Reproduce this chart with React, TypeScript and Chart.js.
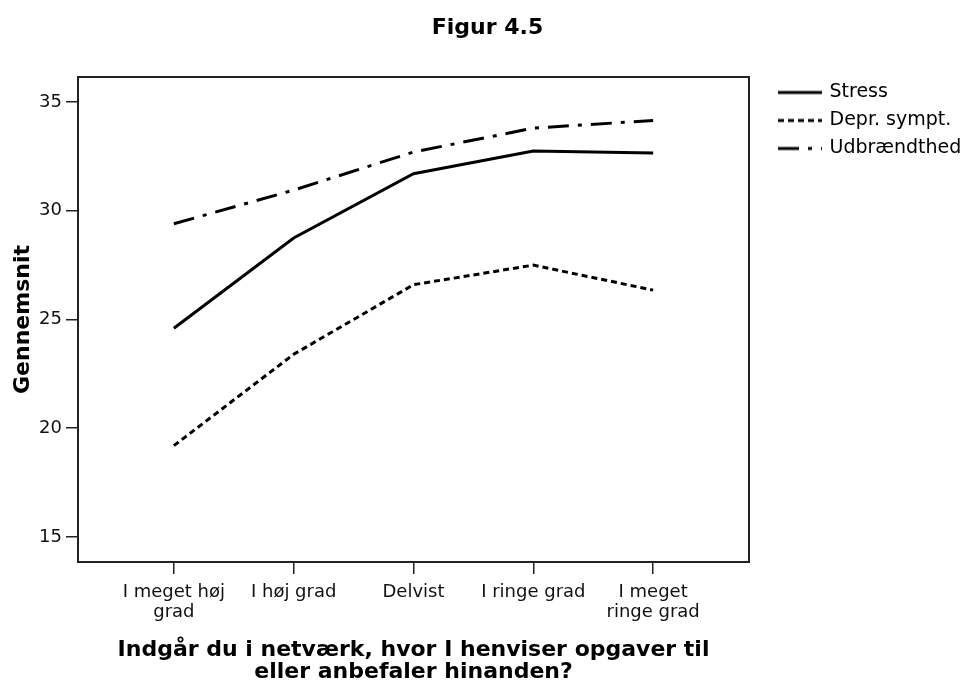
import React, { useEffect, useRef } from "react";
import { Chart, registerables } from "chart.js";

Chart.register(...registerables);

const categories: (string | string[])[] = [
  ["I meget høj", "grad"],
  "I høj grad",
  "Delvist",
  "I ringe grad",
  ["I meget", "ringe grad"],
];
const stress = [24.6, 28.75, 31.7, 32.75, 32.65];
const depr = [19.2, 23.4, 26.6, 27.5, 26.35];
const udbr = [29.4, 30.95, 32.7, 33.8, 34.15];
const yTicks = [15, 20, 25, 30, 35];
const seriesNames = ["Stress", "Depr. sympt.", "Udbrændthed"];
const chartTitle = "Figur 4.5";
const yTitle = "Gennemsnit";
const xTitle = ["Indgår du i netværk, hvor I henviser opgaver til", "eller anbefaler hinanden?"];

const FONT = "'DejaVu Sans', sans-serif";
const dashes: number[][] = [[], [6, 4], [21, 9, 4, 9]];

function sample(dash: number[]): HTMLCanvasElement {
  const c = document.createElement("canvas");
  c.width = 66;
  c.height = 8;
  const g = c.getContext("2d")!;
  g.strokeStyle = "#000";
  g.lineWidth = 3;
  g.setLineDash(dash);
  g.beginPath();
  g.moveTo(22, 4);
  g.lineTo(66, 4);
  g.stroke();
  return c;
}

const boxPlugin = {
  id: "frameBox",
  afterDraw(chart: any) {
    const { ctx, chartArea: a } = chart;
    ctx.save();
    ctx.strokeStyle = "#222";
    ctx.lineWidth = 2;
    ctx.setLineDash([]);
    ctx.strokeRect(a.left, a.top, a.right - a.left, a.bottom - a.top);
    ctx.restore();
  },
};

export default function App() {
  const ref = useRef<HTMLCanvasElement | null>(null);
  useEffect(() => {
    if (!ref.current) return;
    const series = [stress, depr, udbr];
    const samples = dashes.map(sample);
    const chart = new Chart(ref.current, {
      type: "line",
      data: {
        datasets: series.map((vals, k) => ({
          label: seriesNames[k],
          data: vals.map((v, i) => ({ x: i, y: v })),
          borderColor: "#000",
          backgroundColor: "#000",
          borderWidth: 3,
          borderDash: dashes[k],
          pointRadius: 0,
          tension: 0,
          fill: false,
        })),
      },
      options: {
        responsive: false,
        devicePixelRatio: 1,
        animation: false,
        layout: { padding: { left: 10, right: 0, top: 0, bottom: 0 } },
        scales: {
          x: {
            type: "linear",
            min: -0.8,
            max: 4.8,
            afterBuildTicks: (s: any) => {
              s.ticks = categories.map((_, i) => ({ value: i }));
            },
            afterFit: (s: any) => {
              s.height = 122;
            },
            ticks: {
              autoSkip: false,
              maxRotation: 0,
              minRotation: 0,
              padding: 8,
              color: "#111",
              font: { family: FONT, size: 18, lineHeight: "20px" },
              callback: (v: any) => categories[Math.round(Number(v))] as any,
            },
            grid: {
              display: true,
              drawOnChartArea: false,
              drawTicks: true,
              tickLength: 12,
              color: "#222",
              lineWidth: 1.5,
            },
            border: { display: true, color: "#222", width: 2 },
            title: {
              display: true,
              text: xTitle,
              color: "#000",
              font: { family: FONT, size: 22, weight: "bold", lineHeight: "22px" },
              padding: { top: 0, bottom: 1 },
            },
          },
          y: {
            type: "linear",
            min: 13.85,
            max: 36.15,
            afterBuildTicks: (s: any) => {
              s.ticks = yTicks.map((v) => ({ value: v }));
            },
            afterFit: (s: any) => {
              s.width = 68;
            },
            ticks: {
              padding: 4,
              color: "#111",
              font: { family: FONT, size: 18 },
            },
            grid: {
              display: true,
              drawOnChartArea: false,
              drawTicks: true,
              tickLength: 12,
              color: "#222",
              lineWidth: 1.5,
            },
            border: { display: true, color: "#222", width: 2 },
            title: {
              display: true,
              text: yTitle,
              color: "#000",
              font: { family: FONT, size: 22, weight: "bold", lineHeight: 1 },
              padding: { top: 2, bottom: 0 },
            },
          },
        },
        plugins: {
          tooltip: { enabled: false },
          title: {
            display: true,
            text: chartTitle,
            color: "#000",
            font: { family: FONT, size: 22, weight: "bold", lineHeight: 1.2 },
            padding: { top: 15, bottom: 35.6 },
          },
          legend: {
            display: true,
            position: "right",
            align: "start",
            maxWidth: 216,
            title: {
              display: true,
              text: " ",
              font: { family: FONT, size: 10, lineHeight: "12px" },
              padding: { top: 31, bottom: 31 },
            },
            labels: {
              color: "#000",
              font: { family: FONT, size: 19 },
              padding: 9,
              usePointStyle: true,
              pointStyleWidth: 62,
              generateLabels: (chart: any) => {
                const items = (Chart as any).defaults.plugins.legend.labels.generateLabels(chart);
                return items.map((it: any, i: number) => ({ ...it, pointStyle: samples[i] }));
              },
            },
          },
        },
      },
      plugins: [boxPlugin],
    } as any);
    return () => chart.destroy();
  }, []);
  return (
    <div style={{ position: "fixed", left: 0, top: 0, width: 965, height: 684, background: "#fff" }}>
      <canvas ref={ref} width={965} height={684} />
    </div>
  );
}
